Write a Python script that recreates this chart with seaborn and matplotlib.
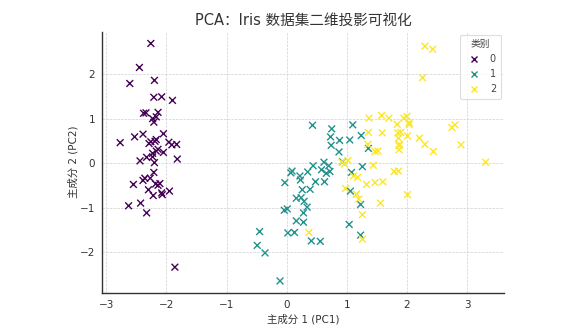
import numpy as np
import pandas as pd
import seaborn as sns
import matplotlib
matplotlib.use("Agg")
import matplotlib.pyplot as plt

# Iris samples projected onto the first two principal components (standardized features)
pc1_class0 = [-2.26, -2.08, -2.36, -2.30, -2.39, -2.08, -2.44, -2.23, -2.33, -2.18,
              -2.17, -2.33, -2.22, -2.63, -2.20, -2.26, -2.21, -2.19, -1.90, -2.34,
              -1.91, -2.21, -2.77, -1.82, -2.23, -1.95, -2.05, -2.17, -2.14, -2.27,
              -2.14, -1.83, -2.61, -2.45, -2.11, -2.21, -2.05, -2.53, -2.43, -2.17,
              -2.29, -1.86, -2.55, -1.96, -2.14, -2.07, -2.38, -2.39, -2.23, -2.20]
pc2_class0 = [0.48, -0.67, -0.34, -0.60, 0.65, 1.49, 0.05, 0.22, -1.12, -0.47,
              1.04, 0.13, -0.73, -0.96, 1.86, 2.69, 1.48, 0.49, 1.41, 1.13,
              0.41, 0.92, 0.46, 0.09, 0.14, -0.63, 0.24, 0.53, 0.31, -0.34,
              -0.50, 0.42, 1.79, 2.15, -0.46, -0.21, 0.66, 0.59, -0.90, 0.27,
              0.44, -2.34, -0.48, 0.47, 1.14, -0.71, 1.12, -0.39, 1.00, 0.01]
pc1_class1 = [1.10, 0.73, 1.24, 0.41, 1.08, 0.39, 0.75, -0.49, 0.93, 0.01,
              -0.11, 0.44, 0.56, 0.72, -0.03, 0.88, 0.35, 0.16, 1.23, 0.16,
              0.74, 0.48, 1.23, 0.63, 0.70, 0.87, 1.26, 1.36, 0.66, -0.04,
              0.13, 0.02, 0.24, 1.06, 0.22, 0.43, 1.05, 1.04, 0.07, 0.28,
              0.28, 0.62, 0.34, -0.36, 0.29, 0.09, 0.23, 0.58, -0.45, 0.26]
pc2_class1 = [0.86, 0.59, 0.62, -1.75, -0.21, -0.59, 0.77, -1.85, 0.03, -1.03,
              -2.65, -0.06, -1.76, -0.19, -0.44, 0.51, -0.20, -0.79, -1.62, -1.30,
              0.40, -0.42, -0.93, -0.42, -0.06, 0.25, -0.08, 0.33, -0.23, -1.06,
              -1.56, -1.57, -0.78, -0.63, -0.29, 0.85, 0.52, -1.38, -0.22, -1.33,
              -1.12, 0.02, -0.99, -2.02, -0.86, -0.18, -0.38, -0.15, -1.54, -0.60]
pc1_class2 = [1.84, 1.16, 2.21, 1.44, 1.87, 2.75, 0.37, 2.30, 2.01, 2.26,
              1.36, 1.60, 1.88, 1.26, 1.47, 1.59, 1.47, 2.43, 3.31, 1.26,
              2.04, 0.98, 2.90, 1.33, 1.70, 1.95, 1.18, 1.02, 1.79, 1.86,
              2.44, 2.30, 1.86, 1.11, 1.20, 2.80, 1.58, 1.35, 0.92, 1.85,
              2.01, 1.90, 1.16, 2.04, 2.00, 1.87, 1.56, 1.52, 1.37, 0.96]
pc2_class2 = [0.87, -0.70, 0.56, -0.05, 0.30, 0.80, -1.56, 0.42, -0.71, 1.92,
              0.69, -0.42, 0.42, -1.16, -0.44, 0.68, 0.26, 2.56, 0.02, -1.71,
              0.91, -0.57, 0.41, -0.48, 1.01, 1.01, -0.32, 0.06, -0.19, 0.56,
              0.26, 2.63, -0.18, -0.29, -0.81, 0.86, 1.07, 0.42, 0.02, 0.68,
              0.61, 0.69, -0.70, 0.87, 1.05, 0.39, -0.90, 0.27, 1.01, -0.02]
class_labels = [0, 1, 2]

title_text = "PCA：Iris 数据集二维投影可视化"
xlabel_text = "主成分 1 (PC1)"
ylabel_text = "主成分 2 (PC2)"
legend_title = "类别"

df = pd.DataFrame({
    "PC1": pc1_class0 + pc1_class1 + pc1_class2,
    "PC2": pc2_class0 + pc2_class1 + pc2_class2,
    "label": [class_labels[0]] * len(pc1_class0)
             + [class_labels[1]] * len(pc1_class1)
             + [class_labels[2]] * len(pc1_class2),
})

sns.set_style("white")
plt.rcParams["font.family"] = ["DejaVu Sans", "Noto Sans CJK SC"]
plt.rcParams["axes.unicode_minus"] = True

cmap = plt.get_cmap("viridis")
palette = {c: cmap(i / (len(class_labels) - 1)) for i, c in enumerate(class_labels)}

fig = plt.figure(figsize=(5.63, 3.29), dpi=100)
ax = fig.add_axes([0.181, 0.110, 0.714, 0.794])

sns.scatterplot(data=df, x="PC1", y="PC2", hue="label", palette=palette,
                marker="x", s=24, linewidth=1.0, ax=ax)

dark = "#333333"
ax.grid(True, linestyle="--", linewidth=0.5, color="#cfcfcf")
ax.set_axisbelow(True)
for side in ("top", "right"):
    ax.spines[side].set_visible(False)
for side in ("left", "bottom"):
    ax.spines[side].set_color(dark)
    ax.spines[side].set_linewidth(1.0)
ax.tick_params(axis="both", direction="out", length=3, width=0.8,
               color=dark, labelcolor=dark, labelsize=7.5, pad=2)
ax.set_xticks([-3, -2, -1, 0, 1, 2, 3])
ax.set_yticks([-2, -1, 0, 1, 2])

ax.set_title(title_text, fontsize=10.5, color=dark, pad=5)
ax.set_xlabel(xlabel_text, fontsize=7.5, color=dark, labelpad=3)
ax.set_ylabel(ylabel_text, fontsize=7.5, color=dark, labelpad=1)

leg = ax.legend(title=legend_title, loc="upper right", fontsize=7,
                title_fontsize=7, frameon=True, fancybox=True,
                borderaxespad=0.3, handletextpad=0.6, labelspacing=0.5,
                borderpad=0.5, markerscale=0.9)
leg.get_frame().set_edgecolor("#d5d5d5")
leg.get_frame().set_linewidth(0.8)
for t in leg.get_texts():
    t.set_color("#444444")
leg.get_title().set_color("#444444")

fig.savefig("out.png", dpi=100)
